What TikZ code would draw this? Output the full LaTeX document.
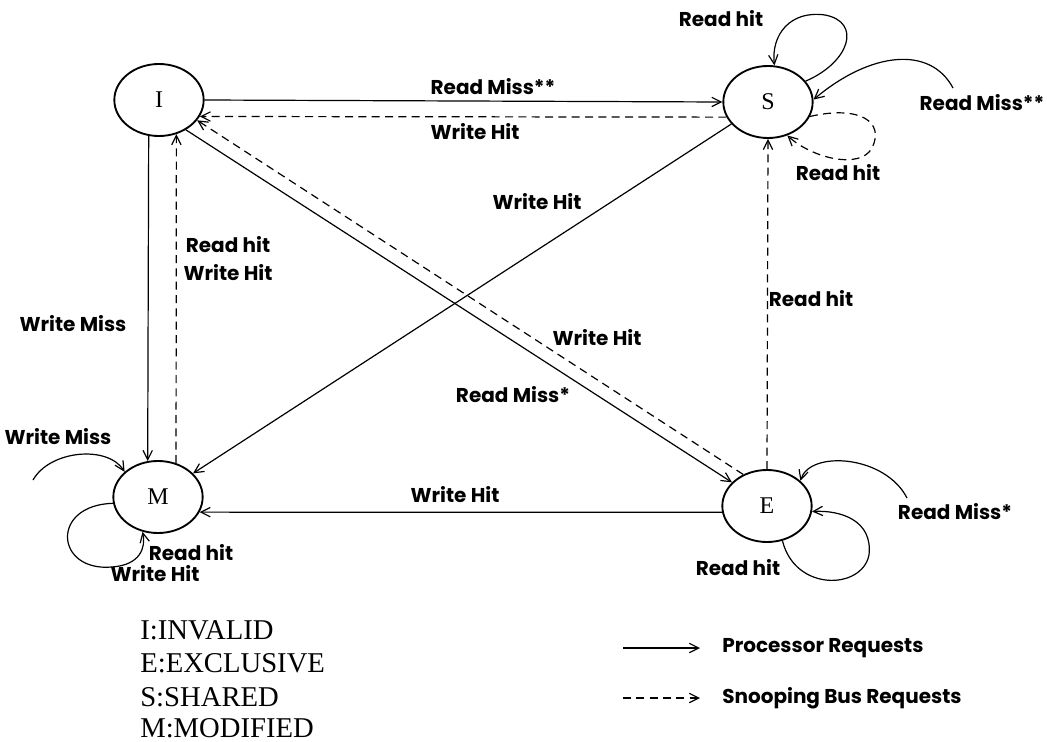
\documentclass[tikz,border=0pt]{standalone}
\usepackage{fontspec}
\setmainfont{Liberation Serif}
\newfontfamily\lblfont{Poppins}
\usetikzlibrary{arrows.meta, shapes.geometric, positioning}

\begin{document}
\begin{tikzpicture}[x=0.75pt, y=-0.75pt,
    >={Straight Barb[length=7pt,width=7pt]},
    state/.style={ellipse, draw, line width=1.4pt, minimum width=67pt,
        minimum height=54pt, inner sep=0pt, font=\fontsize{18}{18}\selectfont},
    req/.style={->, line width=0.9pt},
    snoop/.style={->, line width=0.9pt, dash pattern=on 6pt off 4pt},
    lbl/.style={inner sep=0pt, font=\lblfont\bfseries\fontsize{15}{15}\selectfont},
    legtxt/.style={anchor=west, inner sep=0pt, font=\fontsize{21.5}{21.5}\selectfont}]

    \useasboundingbox (0,0) rectangle (1047,742);

    % =================================================================
    % 1. CAC TRANG THAI
    % =================================================================
    \node[state] (I) at (159,100) {I};
    \node[state] (S) at (768,102) {S};
    \node[state] (M) at (158,497) {M};
    \node[state] (E) at (767,506) {E};

    % dau tu do cua cac mui ten vao
    \coordinate (rmS) at (953,88);
    \coordinate (rmE) at (907,498);
    \coordinate (wmM) at (33,480);

    % =================================================================
    % 2. CHUYEN TRANG THAI GIUA CAC NUT
    % =================================================================
    \draw[req] (I.east) -- (S.west);
    \draw[snoop] (S.200) -- (I.-22);

    \draw[req] (I.-106) -- (M.106);
    \draw[snoop] (M.62) -- (I.-63);

    \draw[req] (I.-48) -- (E.146);
    \draw[snoop] (E.127) -- (I.-28);

    \draw[req] (S.211) -- (M.34);
    \draw[snoop] (E.north) -- (S.south);

    \draw[req] (E.188) -- (M.-20);

    % =================================================================
    % 3. VONG LAP VA MUI TEN TU BEN NGOAI
    % =================================================================
    \draw[req] (S.29) .. controls (850,62) and (862,22) .. (825,15)
        .. controls (790,10) and (771,35) .. (S.80);
    \draw[req] (rmS) .. controls (930,45) and (870,52) .. (S.3);
    \draw[snoop] (S.-19) .. controls (860,105) and (885,122) .. (872,148)
        .. controls (860,170) and (812,158) .. (S.-60);

    \draw[req] (rmE) .. controls (885,455) and (810,450) .. (E.37);
    \draw[req] (E.-66) .. controls (795,592) and (862,590) .. (869,555)
        .. controls (873,520) and (840,510) .. (E.-7);

    \draw[req] (wmM) .. controls (50,450) and (108,445) .. (M.143);
    \draw[req] (M.188) .. controls (50,505) and (55,572) .. (112,567)
        .. controls (140,565) and (146,548) .. (M.-114);

    % =================================================================
    % 4. NHAN CAC CHUYEN TRANG THAI
    % =================================================================
    \node[lbl] (tIS) at (493,87) {Read Miss**};
    \node[lbl] (tSI) at (475,132) {Write Hit};
    \node[lbl] (tSM) at (537,202) {Write Hit};
    \node[lbl] (tIM) at (73,324) {Write Miss};
    \node[lbl] (tMIa) at (228,245) {Read hit};
    \node[lbl] (tMIb) at (228,273) {Write Hit};
    \node[lbl] (tES) at (811,299) {Read hit};
    \node[lbl] (tEI) at (597,338) {Write Hit};
    \node[lbl] (tIE) at (513,395) {Read Miss*};
    \node[lbl] (tEM) at (455,495) {Write Hit};

    \node[lbl] (tSSa) at (721,19) {Read hit};
    \node[lbl] (tSSb) at (982,103) {Read Miss**};
    \node[lbl] (tSSc) at (838,173) {Read hit};
    \node[lbl] (tEEa) at (955,512) {Read Miss*};
    \node[lbl] (tEEb) at (738,568) {Read hit};
    \node[lbl] (tMMa) at (58,437) {Write Miss};
    \node[lbl] (tMMb) at (191,553) {Read hit};
    \node[lbl] (tMMc) at (155,574) {Write Hit};

    % =================================================================
    % 5. CHU GIAI
    % =================================================================
    \node[legtxt] (kI) at (140,630) {I:INVALID};
    \node[legtxt] (kE) at (140,663) {E:EXCLUSIVE};
    \node[legtxt] (kS) at (140,697) {S:SHARED};
    \node[legtxt] (kM) at (140,728) {M:MODIFIED};

    \coordinate (pA) at (623,648);
    \coordinate (pB) at (700,648);
    \coordinate (bA) at (623,698);
    \coordinate (bB) at (700,698);
    \draw[req] (pA) -- (pB);
    \draw[snoop] (bA) -- (bB);
    \node[lbl, anchor=west] (kProc) at (722,648) {Processor Requests};
    \node[lbl, anchor=west] (kBus) at (722,698) {Snooping Bus Requests};

\end{tikzpicture}
\end{document}
